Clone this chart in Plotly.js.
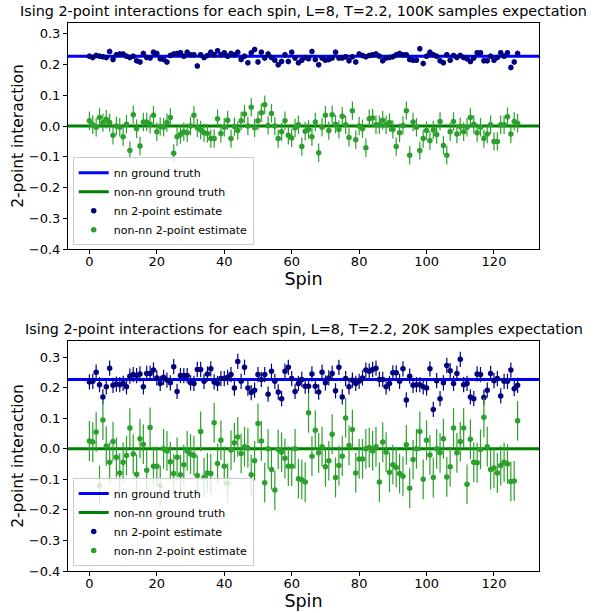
<!DOCTYPE html>
<html>
<head>
<meta charset="utf-8">
<script src="https://cdn.plot.ly/plotly-3.0.1.min.js"></script>
<style>html,body{margin:0;padding:0;background:#fff;}#chart{width:597px;height:613px;}</style>
</head>
<body>
<div id="chart"></div>
<script>
// ---------------- data ----------------
const titleTop = "Ising 2-point interactions for each spin, L=8, T=2.2, 100K samples expectation";
const titleBottom = "Ising 2-point interactions for each spin, L=8, T=2.2, 20K samples expectation";

const nnTruth = 0.227;     // nn ground truth
const nonnTruth = 0.0;     // non-nn ground truth

// 100K samples: nn estimates (spin 0..127)
const nnTop = [
 0.227,0.223,0.229,0.227,0.225,0.223,0.242,0.216,0.232,0.234,0.234,0.227,0.223,0.227,0.212,0.208,
 0.236,0.223,0.221,0.240,0.236,0.219,0.216,0.208,0.229,0.234,0.236,0.238,0.227,0.240,0.232,0.232,
 0.195,0.232,0.223,0.229,0.240,0.232,0.245,0.232,0.238,0.227,0.236,0.232,0.240,0.216,0.227,0.206,
 0.238,0.249,0.208,0.240,0.221,0.234,0.223,0.214,0.199,0.210,0.232,0.210,0.240,0.221,0.206,0.214,
 0.223,0.219,0.242,0.216,0.199,0.221,0.214,0.216,0.221,0.240,0.221,0.221,0.225,0.212,0.225,0.208,
 0.234,0.229,0.225,0.229,0.232,0.234,0.227,0.212,0.221,0.223,0.225,0.232,0.236,0.232,0.232,0.216,
 0.214,0.214,0.251,0.203,0.227,0.240,0.232,0.227,0.212,0.206,0.232,0.214,0.229,0.223,0.229,0.223,
 0.219,0.210,0.221,0.238,0.238,0.212,0.212,0.227,0.214,0.223,0.238,0.227,0.238,0.190,0.208,0.236
];
// 100K samples: non-nn estimates
const nonnTop = [
 0.017,0.004,-0.004,0.028,0.011,0.022,0.011,-0.030,0.000,-0.004,-0.035,0.006,-0.080,0.037,-0.009,-0.065,
 0.013,0.013,0.006,0.035,-0.019,-0.002,-0.004,0.011,0.028,-0.089,-0.035,-0.028,-0.019,-0.022,0.000,0.035,
 -0.006,-0.013,-0.022,-0.024,-0.041,-0.041,0.024,-0.024,-0.004,0.019,-0.041,-0.002,-0.015,0.017,0.039,0.000,
 0.061,-0.006,0.017,0.043,0.069,0.002,0.041,0.000,-0.041,-0.019,0.017,-0.030,-0.039,-0.006,0.004,-0.067,
 -0.017,-0.011,-0.035,0.013,-0.087,-0.004,0.035,-0.015,0.037,0.006,-0.011,0.032,0.004,-0.037,0.050,-0.045,
 0.000,-0.009,-0.071,0.024,0.026,0.004,0.004,0.019,0.004,0.011,-0.011,-0.067,-0.022,0.002,0.050,-0.095,
 0.013,-0.004,-0.080,-0.041,-0.015,-0.048,-0.013,-0.028,0.015,-0.063,-0.095,-0.019,0.015,-0.026,-0.002,-0.019,
 -0.004,0.028,0.006,-0.022,-0.004,-0.041,-0.026,0.004,-0.050,-0.050,0.004,0.004,0.030,-0.026,0.015,0.009
];
// 20K samples: nn estimates
const nnBottom = [
 0.219,0.221,0.251,0.210,0.170,0.203,0.264,0.208,0.212,0.210,0.214,0.203,0.238,0.243,0.240,0.245,
 0.203,0.247,0.247,0.258,0.232,0.214,0.234,0.225,0.216,0.269,0.188,0.240,0.240,0.240,0.216,0.214,
 0.260,0.260,0.221,0.245,0.262,0.219,0.214,0.230,0.230,0.234,0.243,0.199,0.286,0.221,0.267,0.199,
 0.184,0.192,0.243,0.227,0.243,0.179,0.254,0.221,0.186,0.164,0.254,0.267,0.230,0.188,0.214,0.227,
 0.205,0.205,0.245,0.205,0.186,0.251,0.216,0.232,0.247,0.190,0.267,0.170,0.230,0.203,0.225,0.214,
 0.221,0.232,0.258,0.254,0.260,0.264,0.227,0.227,0.203,0.214,0.249,0.249,0.221,0.262,0.160,0.238,
 0.208,0.210,0.210,0.203,0.199,0.262,0.129,0.223,0.164,0.216,0.273,0.256,0.214,0.247,0.293,0.210,
 0.214,0.170,0.164,0.245,0.243,0.168,0.192,0.247,0.223,0.230,0.173,0.221,0.221,0.258,0.197,0.208
];
// 20K samples: non-nn estimates
const nonnBottom = [
 0.026,0.022,0.055,-0.120,0.094,0.009,-0.044,0.024,-0.028,-0.079,-0.044,-0.022,0.068,-0.017,-0.083,0.033,
 0.015,-0.070,0.070,-0.057,-0.057,-0.120,0.000,-0.007,-0.042,-0.081,-0.028,-0.085,-0.052,-0.007,-0.017,-0.022,
 -0.087,0.057,-0.094,-0.079,-0.081,0.085,-0.048,0.028,-0.057,-0.113,-0.004,0.020,0.039,-0.015,0.007,0.003,
 -0.085,-0.039,0.083,0.026,-0.111,0.000,-0.068,-0.135,-0.002,-0.011,-0.031,-0.057,-0.057,0.000,-0.098,-0.101,
 -0.109,0.118,-0.024,0.061,-0.013,0.007,-0.059,-0.039,0.048,-0.094,-0.055,-0.024,0.101,0.011,0.063,-0.079,
 -0.033,-0.033,0.000,0.004,-0.007,0.007,-0.109,0.022,-0.011,-0.077,-0.052,-0.061,-0.081,-0.090,0.013,-0.129,
 -0.035,0.000,0.057,-0.100,0.028,-0.020,-0.094,0.000,-0.013,0.033,-0.092,-0.059,0.068,-0.013,0.024,0.068,
 -0.116,0.031,-0.044,-0.046,-0.002,0.103,0.007,-0.068,-0.063,-0.079,-0.055,-0.044,-0.050,-0.107,-0.105,0.092
];
// error bar half-widths (standard errors)
const errNnTop = 0.009, errNonnTop = 0.030;
const errNnBottom = 0.025, errNonnBottom = 0.065;

const legendLabels = ["nn ground truth", "non-nn ground truth", "nn 2-point estimate", "non-nn 2-point estimate"];
const xTickVals = [0, 20, 40, 60, 80, 100, 120];
const yTickVals = [-0.4, -0.3, -0.2, -0.1, 0.0, 0.1, 0.2, 0.3];

// ---------------- styling ----------------
const FONT = "DejaVu Sans, sans-serif";
const xRange = [-6.35, 133.35];
const spins = nnTop.map((_, i) => i);
const C_NN_LINE = "#0000ff", C_NONN_LINE = "#008000", C_NN = "#000080", C_NONN = "#2ca02c";

function panel(nn, nonn, eNn, eNonn, xa, ya, leg) {
  return [
    {x: xRange, y: [nnTruth, nnTruth], mode: "lines", line: {color: C_NN_LINE, width: 3},
     name: legendLabels[0], xaxis: xa, yaxis: ya, legend: leg, hoverinfo: "skip"},
    {x: xRange, y: [nonnTruth, nonnTruth], mode: "lines", line: {color: C_NONN_LINE, width: 3},
     name: legendLabels[1], xaxis: xa, yaxis: ya, legend: leg, hoverinfo: "skip"},
    {x: spins, y: nn, mode: "markers", marker: {color: C_NN, size: 5.5},
     error_y: {type: "constant", value: eNn, color: C_NN, thickness: 1.2, width: 0},
     name: legendLabels[2], xaxis: xa, yaxis: ya, legend: leg},
    {x: spins, y: nonn, mode: "markers", marker: {color: C_NONN, size: 5.5},
     error_y: {type: "constant", value: eNonn, color: C_NONN, thickness: 1.2, width: 0},
     name: legendLabels[3], xaxis: xa, yaxis: ya, legend: leg}
  ];
}

const traces = [].concat(
  panel(nnTop, nonnTop, errNnTop, errNonnTop, "x", "y", "legend"),
  panel(nnBottom, nonnBottom, errNnBottom, errNonnBottom, "x2", "y2", "legend2")
);

const tickFont = {family: FONT, size: 13, color: "#000"};
function xax(anchor) {
  return {anchor: anchor, domain: [0, 1], range: xRange, tickvals: xTickVals,
    showline: true, mirror: true, linecolor: "#000", linewidth: 1, ticks: "outside",
    ticklen: 4, tickwidth: 1, tickcolor: "#000", showgrid: false, zeroline: false,
    tickfont: tickFont, automargin: false, ticklabelstandoff: -4,
    title: {text: "Spin", font: {family: FONT, size: 17.5, color: "#000"}, standoff: 1}};
}
function yax(anchor, dom, top) {
  return {anchor: anchor, domain: dom, range: [-0.4, top], tickvals: yTickVals, tickformat: ".1f",
    showline: true, mirror: true, linecolor: "#000", linewidth: 1, ticks: "outside",
    ticklen: 4, tickwidth: 1, tickcolor: "#000", showgrid: false, zeroline: false,
    tickfont: tickFont, automargin: false,
    title: {text: "2-point interaction", font: {family: FONT, size: 15.5, color: "#000"}, standoff: 1}};
}
const legendStyle = {font: {family: FONT, size: 11, color: "#000"}, bgcolor: "rgba(255,255,255,0.8)",
  bordercolor: "#cccccc", borderwidth: 1, xanchor: "left", yanchor: "bottom", tracegroupgap: 0};

const topDom = [0.5876, 1], botDom = [0, 0.4197];
const layout = {
  width: 597, height: 613,
  margin: {l: 68, r: 58, t: 23, b: 42, pad: 0},
  paper_bgcolor: "#fff", plot_bgcolor: "#fff",
  font: {family: FONT, color: "#000"},
  showlegend: true,
  xaxis: xax("y"), yaxis: yax("x", topDom, 0.335),
  xaxis2: xax("y2"), yaxis2: yax("x2", botDom, 0.353),
  legend: Object.assign({x: 0.01, y: 0.5943}, legendStyle),
  legend2: Object.assign({x: 0.01, y: 0.0091}, legendStyle),
  annotations: [
    {text: titleTop, xref: "paper", yref: "paper", x: 0.5, y: topDom[1], xanchor: "center", yanchor: "bottom",
     yshift: 2, showarrow: false, font: {family: FONT, size: 14.35, color: "#000"}},
    {text: titleBottom, xref: "paper", yref: "paper", x: 0.5, y: botDom[1], xanchor: "center", yanchor: "bottom",
     yshift: 2, showarrow: false, font: {family: FONT, size: 14.35, color: "#000"}}
  ]
};

Plotly.newPlot("chart", traces, layout, {staticPlot: true, displayModeBar: false});
</script>
</body>
</html>
